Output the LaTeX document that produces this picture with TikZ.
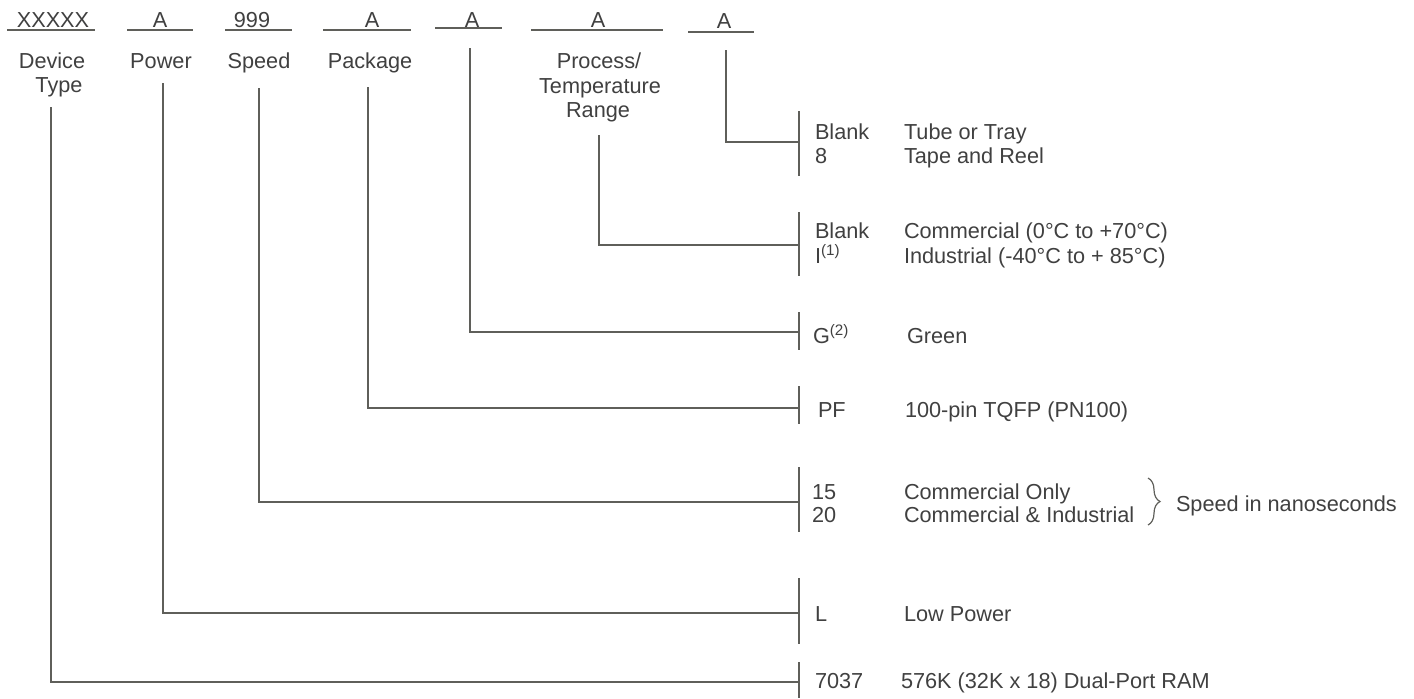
\documentclass[tikz,border=0pt]{standalone}
\usepackage{fontspec}
\setmainfont{Liberation Sans}
\usetikzlibrary{decorations.pathreplacing}
\definecolor{txtc}{RGB}{64,64,64}
\definecolor{linec}{RGB}{95,95,90}
\begin{document}
\begin{tikzpicture}[x=0.5pt,y=-0.5pt,
  lbl/.style={inner sep=0pt,outer sep=0pt,text=txtc,font=\fontsize{10.85}{12}\selectfont},
  hdr/.style={lbl,anchor=base},
  opt/.style={lbl,anchor=base west},
  conn/.style={draw=linec,line width=0.8pt},
  tickline/.style={draw=linec,line width=0.8pt},
  uline/.style={draw=linec,line width=0.8pt}]
\useasboundingbox (0,0) rectangle (1414,698);

% header fields
\node[hdr] (hx) at (53,27) {XXXXX};
\node[hdr] (hp) at (160,27) {A};
\node[hdr] (hs) at (252,27) {999};
\node[hdr] (hk) at (372,27) {A};
\node[hdr] (hg) at (472,27) {A};
\node[hdr] (ht) at (598,27) {A};
\node[hdr] (hr) at (724,28) {A};
\coordinate (ux1) at (7,30);   \coordinate (ux2) at (95,30);
\coordinate (up1) at (127,30); \coordinate (up2) at (193,30);
\coordinate (us1) at (225,30); \coordinate (us2) at (292,30);
\coordinate (uk1) at (323,30); \coordinate (uk2) at (411,30);
\coordinate (ug1) at (435,28); \coordinate (ug2) at (502,28);
\coordinate (ut1) at (531,30); \coordinate (ut2) at (663,30);
\coordinate (ur1) at (688,32); \coordinate (ur2) at (754,32);
\foreach \u in {x,p,s,k,g,t,r}{\draw[uline] (u\u1) -- (u\u2);}

% field names
\node[hdr] (ldev) at (52,68) {Device};
\node[hdr] (ltyp) at (59,92) {Type};
\node[hdr] (lpow) at (161,68) {Power};
\node[hdr] (lspd) at (259,68) {Speed};
\node[hdr] (lpkg) at (370,68) {Package};
\node[hdr] (lpro) at (599,68) {Process/};
\node[hdr] (ltem) at (600,93) {Temperature};
\node[hdr] (lran) at (598,117) {Range};

% connector start points
\coordinate (sdev) at (51,107);
\coordinate (spow) at (163,83);
\coordinate (sspd) at (259,88);
\coordinate (spkg) at (368,87);
\coordinate (sgrn) at (470,48);
\coordinate (stmp) at (599,135);
\coordinate (srel) at (726,50);
% connector end points on the ticks
\coordinate (edev) at (799,682);
\coordinate (epow) at (799,613);
\coordinate (espd) at (799,502);
\coordinate (epkg) at (799,408);
\coordinate (egrn) at (799,332);
\coordinate (etmp) at (799,245);
\coordinate (erel) at (799,142);
\foreach \c in {dev,pow,spd,pkg,grn,tmp,rel}{\draw[conn] (s\c) |- (e\c);}

% ticks
\coordinate (trel1) at (799,111); \coordinate (trel2) at (799,176);
\coordinate (ttmp1) at (799,212); \coordinate (ttmp2) at (799,276);
\coordinate (tgrn1) at (799,312); \coordinate (tgrn2) at (799,350);
\coordinate (tpkg1) at (799,386); \coordinate (tpkg2) at (799,424);
\coordinate (tspd1) at (799,467); \coordinate (tspd2) at (799,532);
\coordinate (tpow1) at (799,578); \coordinate (tpow2) at (799,644);
\coordinate (tdev1) at (799,662); \coordinate (tdev2) at (799,698);
\foreach \c in {rel,tmp,grn,pkg,spd,pow,dev}{\draw[tickline] (t\c1) -- (t\c2);}

% options
\node[opt] (o1a) at (815,139) {Blank};
\node[opt] (o1b) at (815,163) {8};
\node[opt] (d1a) at (904,139) {Tube or Tray};
\node[opt] (d1b) at (904,163) {Tape and Reel};

\node[opt] (o2a) at (815,238) {Blank};
\node[opt] (o2b) at (815,263) {I\textsuperscript{(1)}};
\node[opt] (d2a) at (904,238) {Commercial (0°C to +70°C)};
\node[opt] (d2b) at (904,263) {Industrial (-40°C to + 85°C)};

\node[opt] (o3) at (813,343) {G\textsuperscript{(2)}};
\node[opt] (d3) at (907,343) {Green};

\node[opt] (o4) at (818,417) {PF};
\node[opt] (d4) at (905,417) {100-pin TQFP (PN100)};

\node[opt] (o5a) at (812,499) {15};
\node[opt] (o5b) at (812,522) {20};
\node[opt] (d5a) at (904,499) {Commercial Only};
\node[opt] (d5b) at (904,522) {Commercial \& Industrial};
\coordinate (br1) at (1148,478);
\coordinate (br2) at (1148,525);
\draw[draw=linec,line width=0.6pt,decorate,decoration={brace,amplitude=6pt}] (br1) -- (br2);
\node[opt] (d5c) at (1176,511) {Speed in nanoseconds};

\node[opt] (o6) at (815,621) {L};
\node[opt] (d6) at (904,621) {Low Power};

\node[opt] (o7) at (815,688) {7037};
\node[opt] (d7) at (901,688) {576K (32K x 18) Dual-Port RAM};
\end{tikzpicture}
\end{document}
